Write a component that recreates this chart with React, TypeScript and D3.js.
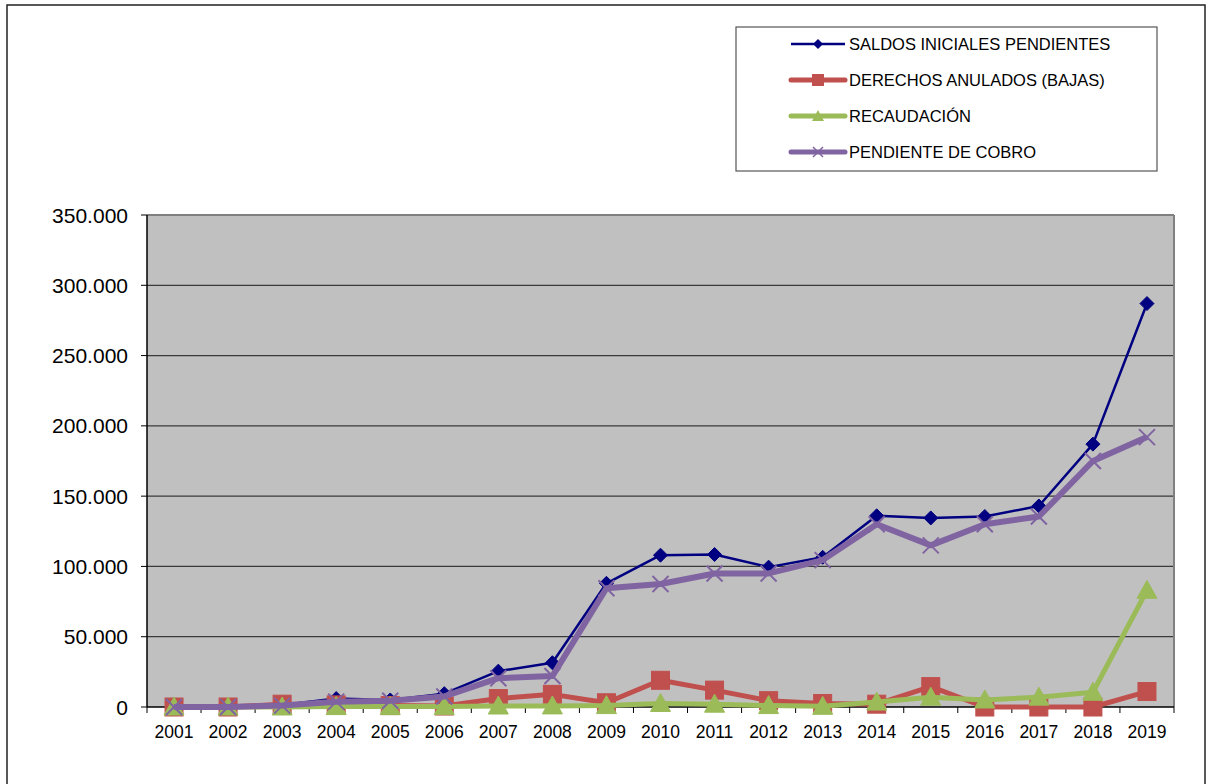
import React from "react";
import * as d3 from "d3";

const years = ["2001","2002","2003","2004","2005","2006","2007","2008","2009","2010","2011","2012","2013","2014","2015","2016","2017","2018","2019"];
const saldos = [0, 0, 1500, 6000, 5000, 9500, 25500, 31500, 88000, 108000, 108500, 99500, 106500, 136000, 134500, 135500, 143000, 187000, 287000];
const derechos = [0, 0, 2000, 1500, 1000, 700, 6000, 9000, 3000, 19000, 12000, 4500, 2500, 2000, 14500, 0, 0, 0, 11000];
const recaudacion = [0, 0, 0, 300, 300, 300, 700, 800, 1000, 2500, 2000, 1000, 500, 3500, 7000, 5000, 7000, 10500, 83000];
const pendiente = [0, 0, 1000, 3800, 4500, 7500, 20500, 22000, 84500, 87500, 95000, 95000, 104500, 130000, 115000, 130000, 135500, 175000, 192000];
const yTicks = [0, 50000, 100000, 150000, 200000, 250000, 300000, 350000];
const seriesNames = ["SALDOS INICIALES PENDIENTES", "DERECHOS ANULADOS (BAJAS)", "RECAUDACIÓN", "PENDIENTE DE COBRO"];

const W = 1209, H = 784;
const L = 147, R = 1174, T = 215, B = 707;

const colors = ["#000080", "#C0504D", "#9BBB59", "#8064A2"];
const widths = [2.5, 5, 5, 6];

function fmt(v: number) {
  return v === 0 ? "0" : d3.format(",")(v).replace(/,/g, ".");
}

function Marker({ kind, x, y }: { kind: number; x: number; y: number }) {
  if (kind === 0) {
    const s = 7;
    return <path d={`M${x},${y - s}L${x + s},${y}L${x},${y + s}L${x - s},${y}Z`} fill="#000080" stroke="#000080" strokeWidth={1} />;
  }
  if (kind === 1) {
    const s = 9;
    return <rect x={x - s} y={y - s} width={2 * s} height={2 * s} fill="#C0504D" stroke="#C0504D" strokeWidth={1} />;
  }
  if (kind === 2) {
    const s = 10;
    return <path d={`M${x},${y - s}L${x + s},${y + s * 0.8}L${x - s},${y + s * 0.8}Z`} fill="#9BBB59" stroke="#9BBB59" strokeWidth={1} />;
  }
  const s = 8;
  return <path d={`M${x - s},${y - s}L${x + s},${y + s}M${x + s},${y - s}L${x - s},${y + s}`} stroke="#8064A2" strokeWidth={2} fill="none" />;
}

export default function App() {
  const x = d3.scaleBand().domain(years).range([L, R]);
  const y = d3.scaleLinear().domain([0, 350000]).range([B, T]);
  const cx = (yr: string) => (x(yr) as number) + x.bandwidth() / 2;
  const all = [saldos, derechos, recaudacion, pendiente];
  const line = d3.line<number>().x((_, i) => cx(years[i])).y((d) => y(d));
  const font = "'Liberation Sans', Arial, sans-serif";
  const legendY = [44, 80, 116, 152];

  return (
    <svg width={W} height={H} style={{ position: "absolute", left: 0, top: 0 }} fontFamily={font}>
      <rect x={0} y={0} width={W} height={H} fill="#fff" />
      <rect x={7} y={5} width={1198} height={800} fill="none" stroke="#222" strokeWidth={1.5} />
      {/* plot area */}
      <rect x={L} y={T} width={R - L} height={B - T} fill="#C0C0C0" />
      {yTicks.slice(1).map((t) => (
        <line key={t} x1={L} x2={R} y1={y(t)} y2={y(t)} stroke={t === 350000 ? "#808080" : "#3a3a3a"} strokeWidth={t === 350000 ? 2 : 1.2} />
      ))}
      <line x1={R} x2={R} y1={T} y2={B} stroke="#808080" strokeWidth={2} />
      {/* y axis */}
      <line x1={L} x2={L} y1={T} y2={B} stroke="#000" strokeWidth={1.5} />
      {yTicks.map((t) => (
        <g key={t}>
          <line x1={L - 6} x2={L} y1={y(t)} y2={y(t)} stroke="#000" strokeWidth={1} />
          <text x={128} y={y(t)} dy="0.36em" textAnchor="end" fontSize={21} fill="#000">{fmt(t)}</text>
        </g>
      ))}
      {/* x axis */}
      <line x1={L} x2={R} y1={B} y2={B} stroke="#000" strokeWidth={1.5} />
      {years.map((yr, i) => (
        <g key={yr}>
          <line x1={x(yr) as number} x2={x(yr) as number} y1={B} y2={B + 6} stroke="#000" strokeWidth={1} />
          {i === years.length - 1 && <line x1={R} x2={R} y1={B} y2={B + 6} stroke="#000" strokeWidth={1} />}
          <text x={cx(yr)} y={738} textAnchor="middle" fontSize={17.5} fill="#000">{yr}</text>
        </g>
      ))}
      {/* series */}
      {all.map((s, k) => (
        <g key={k}>
          <path d={line(s) || ""} fill="none" stroke={colors[k]} strokeWidth={widths[k]} strokeLinejoin="round" />
          {s.map((v, i) => (
            <Marker key={i} kind={k} x={cx(years[i])} y={y(v)} />
          ))}
        </g>
      ))}
      {/* legend */}
      <rect x={736} y={27} width={421} height={144} fill="#fff" stroke="#555" strokeWidth={1.2} />
      {seriesNames.map((n, k) => (
        <g key={n}>
          <line x1={791} x2={845} y1={legendY[k]} y2={legendY[k]} stroke={colors[k]} strokeWidth={k === 0 ? 2.5 : 5} strokeLinecap={k === 0 ? "butt" : "round"} />
          {k === 0 && <path d={`M818,${legendY[k] - 5}L823,${legendY[k]}L818,${legendY[k] + 5}L813,${legendY[k]}Z`} fill={colors[0]} />}
          {k === 1 && <rect x={812} y={legendY[k] - 6} width={12} height={12} fill={colors[1]} />}
          {k === 2 && <path d={`M818,${legendY[k] - 6}L824,${legendY[k] + 5}L812,${legendY[k] + 5}Z`} fill={colors[2]} />}
          {k === 3 && <path d={`M813,${legendY[k] - 5}L823,${legendY[k] + 5}M823,${legendY[k] - 5}L813,${legendY[k] + 5}`} stroke={colors[3]} strokeWidth={1.5} />}
          <text x={849} y={legendY[k]} dy="0.36em" fontSize={16.5} fill="#000">{n}</text>
        </g>
      ))}
    </svg>
  );
}
